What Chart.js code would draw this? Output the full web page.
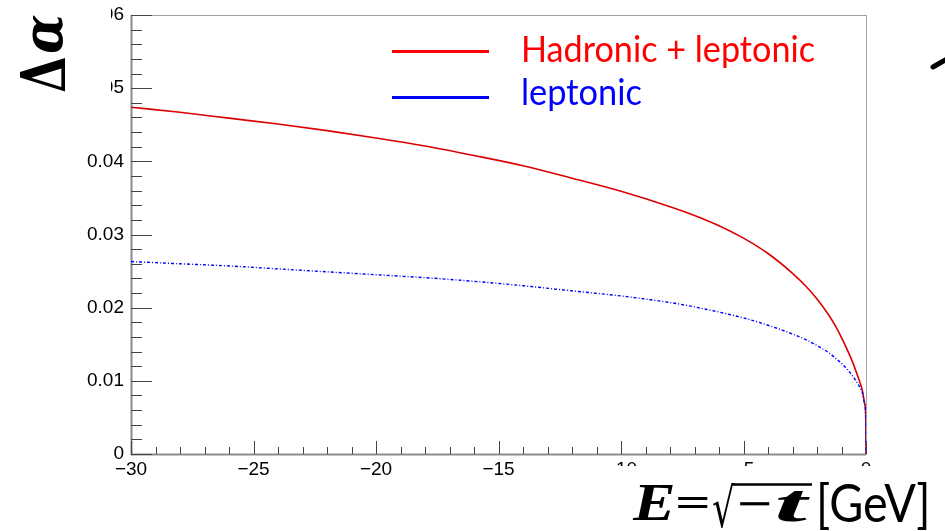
<!DOCTYPE html>
<html>
<head>
<meta charset="utf-8">
<script src="https://cdn.jsdelivr.net/npm/chart.js@4.4.1/dist/chart.umd.min.js"></script>
<style>
  html, body { margin: 0; padding: 0; background: #fff; }
  #wrap { width: 945px; height: 531px; position: relative; }
  canvas { display: block; }
</style>
</head>
<body>
<div id="wrap"><canvas id="c" width="945" height="531"></canvas></div>
<script>
// Energy E = sqrt(-t) in GeV (plotted on the negative axis)
const energy = [-30, -28, -26, -24, -22, -20, -18, -16, -14, -12, -10, -8, -7, -6, -5, -4, -3, -2.5, -2, -1.5, -1.25, -1, -0.8, -0.6, -0.45, -0.3, -0.2, -0.15, -0.05, -0.01, 0];
// Running of alpha: hadronic + leptonic contribution
const hadronicLeptonic = [0.0474, 0.0467, 0.0459, 0.0451, 0.0442, 0.0432, 0.0421, 0.0408, 0.0394, 0.0377, 0.0359, 0.0338, 0.0326, 0.0312, 0.0295, 0.0274, 0.0247, 0.0231, 0.0212, 0.0189, 0.0175, 0.0159, 0.0145, 0.0130, 0.0117, 0.0103, 0.0093, 0.0087, 0.0068, 0.0050, 0];
// Leptonic contribution only
const leptonic = [0.0263, 0.0260, 0.0257, 0.0253, 0.0249, 0.0245, 0.0241, 0.0236, 0.0230, 0.0223, 0.0216, 0.0207, 0.0201, 0.0194, 0.0186, 0.0176, 0.0164, 0.0157, 0.0148, 0.0138, 0.0131, 0.0124, 0.0117, 0.0109, 0.0102, 0.0094, 0.0088, 0.0084, 0.0067, 0.0048, 0];

const seriesNames = ['Hadronic + leptonic', 'leptonic'];
const seriesColors = ['#ff0000', '#0000ff'];

const xRange = [-30, 0];
const yRange = [0, 0.06];

const toPoints = (xs, ys) => xs.map((x, i) => ({ x: x, y: ys[i] }));

// draw text squeezed/stretched horizontally to a given advance width
function fitText(ctx, text, x, y, width, font, color) {
  ctx.save();
  ctx.font = font;
  ctx.fillStyle = color;
  ctx.textAlign = 'left';
  ctx.textBaseline = 'alphabetic';
  const m = ctx.measureText(text).width;
  ctx.translate(x, y);
  ctx.scale(width / m, 1);
  ctx.fillText(text, 0, 0);
  ctx.restore();
}

// draw a glyph so that its inked box fills the rectangle (x0,y0)-(x1,y1)
function fitBox(ctx, text, font, x0, y0, x1, y1, color) {
  ctx.save();
  ctx.font = font;
  ctx.fillStyle = color;
  ctx.textAlign = 'left';
  ctx.textBaseline = 'alphabetic';
  const m = ctx.measureText(text);
  const bl = m.actualBoundingBoxLeft, br = m.actualBoundingBoxRight;
  const ba = m.actualBoundingBoxAscent, bd = m.actualBoundingBoxDescent;
  const sx = (x1 - x0) / (bl + br);
  const sy = (y1 - y0) / (ba + bd);
  ctx.translate(x0 + bl * sx, y0 + ba * sy);
  ctx.scale(sx, sy);
  ctx.fillText(text, 0, 0);
  ctx.restore();
}

const tickFont = { family: '"Liberation Sans", Arial, sans-serif', size: 19 };
const fmtMinus = s => s.replace('-', '\u2212');

// frame and inward ticks in the ROOT style
const framePlugin = {
  id: 'frame',
  beforeDatasetsDraw(chart) {
    const { ctx, chartArea: a, scales: { x, y } } = chart;
    ctx.save();
    ctx.strokeStyle = '#a0a0a0';
    ctx.lineWidth = 1;
    ctx.strokeRect(a.left + 0.5, a.top + 0.5, a.right - a.left, a.bottom - a.top);
    ctx.strokeStyle = '#8c8c8c';
    ctx.lineWidth = 2;
    ctx.beginPath();
    ctx.moveTo(a.left + 0.5, a.top);
    ctx.lineTo(a.left + 0.5, a.bottom + 0.5);
    ctx.lineTo(a.right, a.bottom + 0.5);
    ctx.stroke();
    ctx.strokeStyle = '#444';
    ctx.lineWidth = 1;
    ctx.beginPath();
    for (let v = xRange[0]; v <= xRange[1]; v += 1) {
      const px = Math.round(x.getPixelForValue(v)) + 0.5;
      const len = (v % 5 === 0) ? 13 : 7;
      ctx.moveTo(px, a.bottom);
      ctx.lineTo(px, a.bottom - len);
    }
    for (let i = 0; i <= 30; i++) {
      const py = Math.round(y.getPixelForValue(i * 0.002)) + 0.5;
      const len = (i % 5 === 0) ? 21 : 11;
      ctx.moveTo(a.left, py);
      ctx.lineTo(a.left + len, py);
    }
    ctx.stroke();
    ctx.restore();
  },
  afterDraw(chart) {
    const { ctx } = chart;
    ctx.save();
    // panels laid over the figure edges
    ctx.fillStyle = '#fff';
    ctx.fillRect(0, 0, 111, 120);
    ctx.fillRect(545, 466, 400, 65);

    // legend
    const legendRows = [{ y: 51.5, ty: 62, w: 294 }, { y: 97.5, ty: 105, w: 121 }];
    legendRows.forEach((r, i) => {
      ctx.strokeStyle = seriesColors[i];
      ctx.lineWidth = 3;
      ctx.beginPath();
      ctx.moveTo(392, r.y);
      ctx.lineTo(489, r.y);
      ctx.stroke();
      fitText(ctx, seriesNames[i], 521, r.ty, r.w, '37px Lato, "Open Sans", sans-serif', seriesColors[i]);
    });

    // y title, reading upwards
    ctx.save();
    ctx.translate(65, 92);
    ctx.rotate(-Math.PI / 2);
    fitBox(ctx, '\u0394', 'bold 62px "DejaVu Serif", serif', 0, -45, 34, 0, '#000');
    fitBox(ctx, '\u03B1', 'bold italic 62px "DejaVu Serif", serif', 39, -33, 77, 0, '#000');
    ctx.restore();

    // x title
    const serif = '"Liberation Serif", "DejaVu Serif", serif';
    fitBox(ctx, 'E', 'bold italic 48px ' + serif, 632, 485, 673, 520, '#000');
    fitBox(ctx, '=', '48px "DejaVu Sans", sans-serif', 678, 497, 708, 508, '#000');
    fitBox(ctx, '\u221A', '48px "DejaVu Sans", sans-serif', 713, 483, 735, 528, '#000');
    ctx.strokeStyle = '#000';
    ctx.lineWidth = 2.5;
    ctx.beginPath();
    ctx.moveTo(733, 484.5);
    ctx.lineTo(812, 484.5);
    ctx.stroke();
    fitBox(ctx, '\u2212', '48px "DejaVu Sans", sans-serif', 740, 502, 770, 506, '#000');
    fitBox(ctx, 't', 'bold italic 48px ' + serif, 777, 490, 811, 521, '#000');
    fitBox(ctx, '[GeV]', '48px Lato, "Open Sans", sans-serif', 820, 482, 927, 530, '#000');

    // stroke fragment at the upper right edge
    ctx.strokeStyle = '#000';
    ctx.lineWidth = 5;
    ctx.lineCap = 'round';
    ctx.beginPath();
    ctx.moveTo(933, 67);
    ctx.lineTo(947, 59);
    ctx.stroke();
    ctx.restore();
  }
};

new Chart(document.getElementById('c'), {
  type: 'scatter',
  data: {
    datasets: [
      {
        label: seriesNames[0],
        data: toPoints(energy, hadronicLeptonic),
        showLine: true,
        borderColor: '#dd0000',
        borderWidth: 1.6,
        pointRadius: 0,
        cubicInterpolationMode: 'monotone',
        order: 1
      },
      {
        label: seriesNames[1],
        data: toPoints(energy, leptonic),
        showLine: true,
        borderColor: '#0000ff',
        borderWidth: 1.4,
        borderDash: [3, 2, 1, 2],
        pointRadius: 0,
        cubicInterpolationMode: 'monotone',
        order: 0
      }
    ]
  },
  options: {
    responsive: false,
    animation: false,
    devicePixelRatio: 1,
    layout: { padding: { left: 0, top: 15, right: 79, bottom: 0 } },
    plugins: { legend: { display: false }, tooltip: { enabled: false } },
    scales: {
      x: {
        type: 'linear',
        min: xRange[0],
        max: xRange[1],
        grid: { display: false },
        border: { display: false },
        ticks: {
          stepSize: 5,
          autoSkip: false,
          maxRotation: 0,
          padding: -4,
          color: '#000',
          font: tickFont,
          callback: v => fmtMinus(String(v))
        },
        afterFit: s => { s.height = 77; }
      },
      y: {
        type: 'linear',
        min: yRange[0],
        max: yRange[1],
        grid: { display: false },
        border: { display: false },
        ticks: {
          stepSize: 0.01,
          padding: -1,
          color: '#000',
          font: tickFont,
          callback: v => (Math.abs(v) < 1e-9 ? '0' : v.toFixed(2))
        },
        afterFit: s => { s.width = 131; }
      }
    }
  },
  plugins: [framePlugin]
});
</script>
</body>
</html>
